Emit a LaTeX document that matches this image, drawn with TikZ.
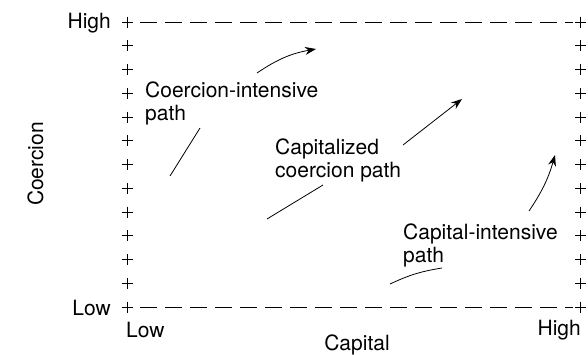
\documentclass[tikz,border=0pt]{standalone}
\usepackage{fontspec}
\setmainfont{TeX Gyre Heros}
\usetikzlibrary{arrows.meta}
\tikzset{
  lbl/.style={font=\fontsize{21}{23}\selectfont, inner sep=0pt, anchor=base west},
  tick/.style={line width=0.7pt},
  edge/.style={dash pattern=on 17pt off 8pt, line width=0.7pt},
  pathline/.style={line width=0.8pt},
  patharrow/.style={line width=0.8pt, -{Stealth[length=11pt,width=8pt]}},
}
\begin{document}
\begin{tikzpicture}[x=1pt,y=-1pt]
	\useasboundingbox (0,0) rectangle (588,354);
	
	% plus marks on the left and right sides
	\foreach \i in {0,...,12}{
		\pgfmathsetmacro{\yy}{22+23.75*\i}
		\draw[tick] (122,\yy) -- (133,\yy) (127.5,\yy-5.5) -- (127.5,\yy+5.5);
		\draw[tick] (575,\yy) -- (586,\yy) (580.5,\yy-5.5) -- (580.5,\yy+5.5);
	}
	
	% dashed top and bottom edges
	\coordinate (tl) at (140,22);
	\coordinate (tr) at (573,22);
	\coordinate (bl) at (140,307);
	\coordinate (br) at (573,307);
	\draw[edge] (tl) -- (tr);
	\draw[edge] (bl) -- (br);
	
	% axis labels
	\node[lbl, anchor=base east] (high) at (111,28) {High};
	\node[lbl, anchor=base east] (low) at (111,315) {Low};
	\node[lbl] (caplow) at (126,337) {Low};
	\node[lbl, anchor=base east] (caphigh) at (581,335) {High};
	\node[lbl, anchor=base] (capital) at (357,350) {Capital};
	\node[lbl, anchor=base, rotate=90] (coercion) at (43,164) {Coercion};
	
	% path labels (base = last line)
	\node[lbl, align=left] (coerpath) at (145,120) {Coercion-intensive\\path};
	\node[lbl, align=left] (cappath) at (275,177) {Capitalized\\coercion path};
	\node[lbl, align=left] (capipath) at (403,262) {Capital-intensive\\path};
	
	% coercion-intensive path
	\coordinate (ca) at (170,176);
	\coordinate (cb) at (200,128);
	\coordinate (cc) at (257,73);
	\coordinate (cd) at (316,49);
	\draw[pathline] (ca) -- (cb);
	\draw[patharrow] (cc) to[bend left=12] (cd);
	
	% capitalized coercion path
	\coordinate (ka) at (267,219);
	\coordinate (kb) at (323,185);
	\coordinate (kc) at (403,145);
	\coordinate (kd) at (462,99);
	\draw[pathline] (ka) -- (kb);
	\draw[patharrow] (kc) -- (kd);
	
	% capital-intensive path
	\coordinate (pa) at (390,284);
	\coordinate (pb) at (442,268);
	\coordinate (pc) at (529,211);
	\coordinate (pd) at (555,155);
	\draw[pathline] (pa) to[bend left=8] (pb);
	\draw[patharrow] (pc) to[bend right=9] (pd);
\end{tikzpicture}
\end{document}
